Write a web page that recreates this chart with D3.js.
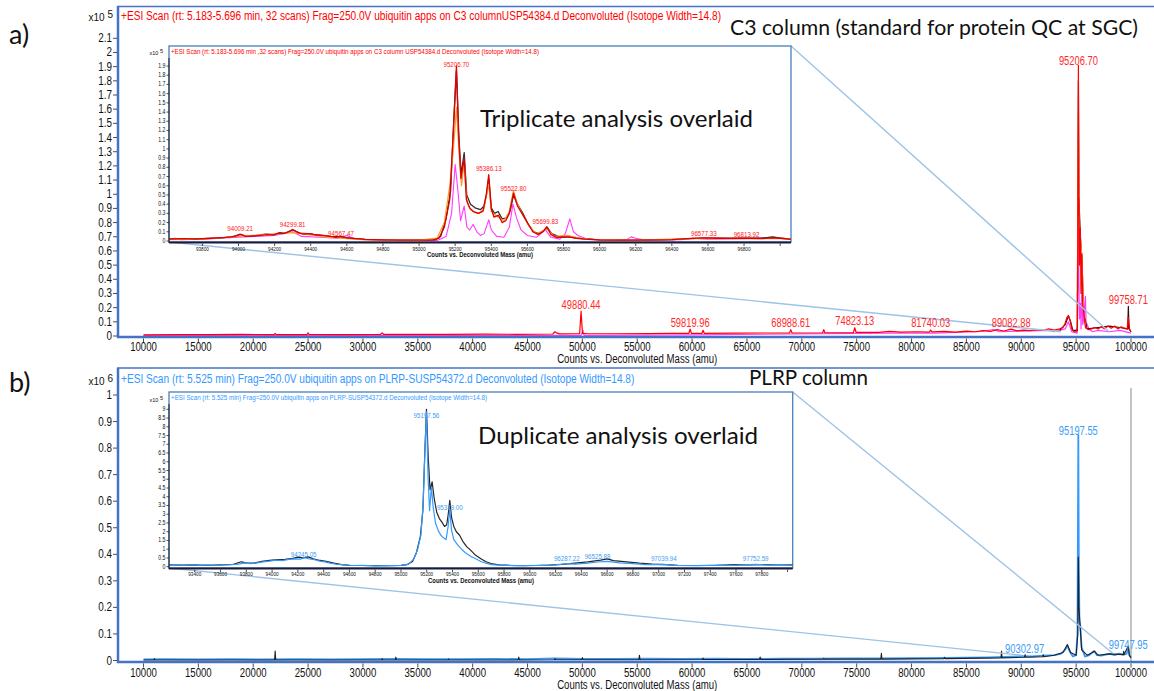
<!DOCTYPE html>
<html><head><meta charset="utf-8">
<script src="https://cdn.jsdelivr.net/npm/d3@7"></script>
<style>body{margin:0;background:#fff}svg{display:block}text{font-family:"Liberation Sans",Arial,sans-serif}</style>
</head><body><svg id="c" width="1154" height="691"></svg>
<script>
// ===================== DATA =====================
const mainXTicks = [10000,15000,20000,25000,30000,35000,40000,45000,50000,55000,60000,65000,70000,75000,80000,85000,90000,95000,100000];
const aYTicks = [0,0.1,0.2,0.3,0.4,0.5,0.6,0.7,0.8,0.9,1,1.1,1.2,1.3,1.4,1.5,1.6,1.7,1.8,1.9,2,2.1];
const bYTicks = [0,0.1,0.2,0.3,0.4,0.5,0.6,0.7,0.8,0.9,1];
const aInsetXTicks = [93800,94000,94200,94400,94600,94800,95000,95200,95400,95600,95800,96000,96200,96400,96600,96800,97000];
const aInsetYTicks = [0,0.1,0.2,0.3,0.4,0.5,0.6,0.7,0.8,0.9,1,1.1,1.2,1.3,1.4,1.5,1.6,1.7,1.8,1.9];
const bInsetXTicks = [93400,93600,93800,94000,94200,94400,94600,94800,95000,95200,95400,95600,95800,96000,96200,96400,96600,96800,97000,97200,97400,97600,97800,98000];
const bInsetYTicks = [0,0.5,1,1.5,2,2.5,3,3.5,4,4.5,5,5.5,6,6.5,7,7.5,8,8.5,9];

// panel a main spectrum (x10^5 counts)
const aMainMagenta = [[10000,0.005],[49900,0.005],[50050,0.04],[50150,0.005],[60000,0.008],[78000,0.02],[82000,0.02],[86000,0.03],[87500,0.045],[88000,0.03],[90000,0.035],[92500,0.04],[93000,0.03],[94000,0.05],[94300,0.1],[94600,0.03],[95100,0.02],[95207,0.84],[95250,0.37],[95300,0.12],[95386,0.23],[95450,0.05],[95523,0.41],[95600,0.08],[95700,0.12],[95846,0.28],[95900,0.1],[96170,0.05],[96500,0.03],[97000,0.04],[98000,0.03],[99000,0.04],[100000,0.02]];
const aMainBlack = [[93500,0.04],[94000,0.08],[94300,0.14],[94500,0.1],[94700,0.04],[95100,0.04],[95207,1.8],[95262,0.96],[95386,0.7],[95523,0.55],[95700,0.15],[96000,0.05],[97000,0.06],[98000,0.07],[99000,0.06],[99600,0.05],[99700,0.05],[99759,0.21],[99820,0.05],[100000,0.03]];
const aMainOrange = [[95100,0.05],[95207,1.6],[95262,0.9],[95330,0.58],[95386,0.7],[95523,0.55],[95700,0.15],[95900,0.05]];
const aMainRed = [[10000,0.008],[13000,0.01],[16000,0.009],[19000,0.011],[21900,0.01],[22000,0.018],[22100,0.01],[24900,0.01],[25000,0.022],[25100,0.011],[28000,0.01],[31600,0.011],[31750,0.022],[31900,0.011],[35000,0.012],[38000,0.011],[41000,0.013],[44000,0.012],[47300,0.014],[47500,0.03],[47700,0.02],[47900,0.015],[49750,0.016],[49880,0.175],[50010,0.018],[50500,0.016],[53000,0.016],[56000,0.017],[58000,0.018],[59700,0.018],[59820,0.048],[59940,0.018],[60900,0.019],[61000,0.04],[61100,0.019],[64000,0.02],[66500,0.021],[68870,0.021],[68989,0.045],[69110,0.021],[71900,0.023],[72000,0.045],[72100,0.023],[74700,0.024],[74823,0.058],[74950,0.025],[77000,0.026],[78000,0.032],[79000,0.027],[80500,0.03],[81620,0.028],[81740,0.042],[81860,0.029],[83000,0.032],[84000,0.028],[85000,0.035],[85800,0.03],[86500,0.038],[87200,0.032],[87800,0.045],[88400,0.035],[89083,0.048],[89600,0.036],[90200,0.042],[90800,0.038],[91400,0.045],[92000,0.04],[92500,0.05],[93000,0.042],[93500,0.05],[93800,0.06],[94000,0.09],[94150,0.13],[94300,0.145],[94450,0.11],[94600,0.05],[94800,0.03],[95000,0.03],[95120,0.06],[95207,1.91],[95240,0.85],[95262,0.97],[95300,0.5],[95386,0.76],[95440,0.3],[95523,0.58],[95600,0.22],[95700,0.16],[95850,0.06],[96100,0.045],[96400,0.05],[96700,0.06],[97000,0.05],[97300,0.065],[97600,0.05],[97900,0.07],[98200,0.055],[98500,0.07],[98800,0.05],[99100,0.065],[99400,0.055],[99650,0.05],[99759,0.13],[99860,0.05],[100000,0.03]];
const aPeaks = [[49880.44,0.175],[59819.96,0.05],[68988.61,0.05],[74823.13,0.066],[81740.03,0.05],[89082.88,0.05],[95206.70,1.9],[99758.71,0.21]];

// panel a inset (x10^5 counts)
const aInsetMagenta = [[93615,0.02],[93650,0.03],[93680,0.015],[93800,0.02],[94000,0.04],[94100,0.05],[94200,0.06],[94300,0.1],[94350,0.05],[94450,0.04],[94550,0.03],[94600,0.06],[94650,0.02],[94800,0.01],[95100,0.005],[95150,0.05],[95180,0.3],[95200,0.83],[95215,0.55],[95230,0.22],[95250,0.38],[95265,0.15],[95280,0.12],[95300,0.18],[95320,0.1],[95340,0.06],[95360,0.08],[95386,0.23],[95400,0.12],[95430,0.05],[95470,0.04],[95500,0.15],[95520,0.4],[95540,0.25],[95565,0.12],[95600,0.06],[95650,0.04],[95700,0.12],[95730,0.04],[95780,0.02],[95810,0.08],[95835,0.24],[95855,0.1],[95880,0.06],[95920,0.03],[96000,0.01],[96150,0.015],[96175,0.045],[96200,0.03],[96250,0.01],[96450,0.015],[96520,0.03],[96600,0.02],[96800,0.025],[96960,0.04],[97060,0.02]];
const aInsetBlack = [[93615,0.02],[93700,0.02],[93800,0.025],[93900,0.035],[93960,0.045],[94009,0.07],[94050,0.05],[94100,0.06],[94150,0.075],[94200,0.07],[94230,0.09],[94260,0.085],[94300,0.12],[94340,0.085],[94380,0.08],[94420,0.07],[94460,0.06],[94500,0.05],[94567,0.045],[94620,0.03],[94700,0.018],[94800,0.012],[95000,0.01],[95090,0.015],[95120,0.05],[95150,0.25],[95175,0.55],[95192,1.3],[95207,1.85],[95220,1.15],[95233,0.72],[95250,0.96],[95264,0.5],[95285,0.4],[95310,0.36],[95340,0.34],[95360,0.38],[95373,0.5],[95386,0.68],[95400,0.36],[95418,0.3],[95438,0.32],[95460,0.24],[95485,0.25],[95505,0.33],[95523,0.5],[95545,0.4],[95575,0.3],[95605,0.18],[95635,0.1],[95665,0.08],[95690,0.11],[95708,0.15],[95735,0.08],[95770,0.05],[95810,0.045],[95850,0.04],[95900,0.025],[96000,0.012],[96200,0.01],[96400,0.014],[96500,0.025],[96600,0.035],[96700,0.03],[96813,0.032],[96900,0.03],[96960,0.045],[97000,0.03],[97060,0.02]];
const aInsetOrange = [[93615,0.015],[93800,0.02],[94000,0.05],[94300,0.09],[94500,0.04],[94700,0.012],[95000,0.008],[95100,0.03],[95140,0.2],[95170,0.6],[95190,1.0],[95207,1.45],[95222,0.95],[95235,0.6],[95250,0.85],[95265,0.42],[95285,0.34],[95320,0.3],[95355,0.32],[95386,0.62],[95400,0.32],[95430,0.27],[95470,0.22],[95500,0.32],[95523,0.55],[95545,0.4],[95575,0.28],[95610,0.16],[95650,0.08],[95708,0.13],[95750,0.05],[95820,0.06],[95870,0.04],[95950,0.015],[96200,0.01],[96600,0.03],[97060,0.025]];
const aInsetRed = [[93615,0.02],[93700,0.025],[93760,0.02],[93850,0.03],[93930,0.04],[93980,0.05],[94009,0.075],[94040,0.05],[94080,0.055],[94120,0.06],[94160,0.07],[94190,0.065],[94220,0.085],[94250,0.08],[94275,0.1],[94300,0.125],[94330,0.09],[94360,0.075],[94400,0.08],[94430,0.065],[94470,0.06],[94510,0.05],[94540,0.04],[94567,0.05],[94600,0.035],[94650,0.025],[94700,0.018],[94800,0.012],[94900,0.01],[95000,0.01],[95080,0.012],[95110,0.03],[95140,0.15],[95170,0.45],[95190,1.2],[95207,1.9],[95220,1.1],[95232,0.68],[95250,0.9],[95262,0.45],[95280,0.36],[95300,0.32],[95330,0.3],[95355,0.33],[95372,0.5],[95386,0.72],[95400,0.35],[95415,0.26],[95440,0.28],[95460,0.2],[95480,0.22],[95500,0.3],[95523,0.52],[95545,0.38],[95570,0.3],[95600,0.2],[95630,0.1],[95660,0.07],[95685,0.1],[95708,0.155],[95730,0.07],[95760,0.04],[95800,0.04],[95830,0.045],[95870,0.03],[95920,0.02],[96000,0.012],[96100,0.01],[96200,0.01],[96300,0.012],[96400,0.015],[96480,0.025],[96577,0.035],[96650,0.03],[96720,0.028],[96813,0.03],[96900,0.025],[96950,0.035],[97000,0.03],[97060,0.02]];
const aInsetPeaks = [[94009.21,0.089],[94299.81,0.132],[94567.47,0.042],[95206.70,1.877],[95386.13,0.748],[95522.80,0.531],[95699.83,0.165],[96577.33,0.042],[96813.92,0.031]];

// panel b main spectrum (x10^6 counts)
const bMainBlue = [[10000,0.004],[12000,0.005],[15000,0.004],[18000,0.005],[21000,0.004],[24000,0.005],[27000,0.004],[30000,0.005],[33000,0.006],[36000,0.005],[39000,0.005],[42000,0.006],[45000,0.005],[47500,0.008],[50000,0.006],[53000,0.006],[56000,0.007],[59000,0.006],[62000,0.007],[65000,0.006],[68000,0.007],[71000,0.007],[74000,0.008],[77000,0.008],[80000,0.009],[83000,0.01],[85000,0.011],[87000,0.012],[88500,0.014],[90000,0.016],[91000,0.015],[92000,0.018],[93000,0.02],[93600,0.025],[94000,0.04],[94200,0.055],[94400,0.035],[94700,0.015],[95000,0.02],[95120,0.1],[95198,0.85],[95240,0.4],[95300,0.15],[95380,0.13],[95500,0.05],[95800,0.015],[96200,0.02],[96450,0.03],[96650,0.036],[96900,0.02],[97300,0.018],[97700,0.022],[98100,0.025],[98500,0.02],[98900,0.026],[99300,0.022],[99600,0.025],[99748,0.05],[99850,0.02],[100000,0.012]];
const bMainBlack = [[10000,0.002],[10950,0.002],[11000,0.007],[11050,0.002],[21950,0.002],[22000,0.036],[22050,0.002],[31700,0.002],[31750,0.007],[31800,0.002],[32950,0.002],[33000,0.013],[33050,0.002],[37750,0.002],[37800,0.006],[37850,0.002],[44150,0.002],[44200,0.013],[44250,0.002],[47450,0.003],[47500,0.007],[47550,0.003],[49950,0.003],[50000,0.011],[50050,0.003],[55150,0.003],[55200,0.02],[55250,0.003],[60950,0.004],[61000,0.009],[61050,0.004],[66150,0.004],[66200,0.013],[66250,0.004],[71950,0.005],[72000,0.008],[72050,0.005],[77200,0.005],[77250,0.027],[77300,0.005],[82950,0.007],[83000,0.012],[83050,0.007],[88150,0.01],[88200,0.036],[88250,0.01],[90300,0.012],[90350,0.022],[90400,0.012],[91950,0.014],[92000,0.022],[92050,0.014],[93000,0.02],[93800,0.03],[94200,0.06],[94500,0.03],[95000,0.02],[95150,0.1],[95198,0.39],[95250,0.2],[95380,0.12],[95500,0.04],[96000,0.02],[96500,0.03],[96650,0.035],[97000,0.02],[98000,0.025],[99300,0.022],[99330,0.035],[99360,0.022],[99748,0.055],[99850,0.02],[100000,0.01]];
const bPeaks = [[90302.97,0.021],[95197.55,0.84],[99747.95,0.036]];
const bCursorMass = [100000];

// panel b inset (x10^5 counts)
const bInsetBlack = [[93200,0.1],[93300,0.09],[93400,0.1],[93500,0.08],[93600,0.1],[93700,0.13],[93760,0.28],[93800,0.22],[93860,0.2],[93920,0.3],[93980,0.36],[94040,0.4],[94100,0.42],[94160,0.48],[94200,0.55],[94240,0.5],[94280,0.56],[94320,0.45],[94360,0.38],[94420,0.3],[94480,0.2],[94540,0.12],[94600,0.08],[94700,0.07],[94800,0.06],[94900,0.06],[95000,0.08],[95050,0.12],[95090,0.3],[95120,0.8],[95150,1.7],[95170,3.2],[95185,6.5],[95198,9.0],[95212,6.2],[95226,4.4],[95242,4.85],[95258,3.9],[95278,3.1],[95298,2.75],[95318,2.55],[95338,2.3],[95355,2.4],[95367,3.0],[95379,3.8],[95393,2.8],[95410,2.3],[95430,2.0],[95455,1.8],[95480,1.45],[95510,1.15],[95540,0.95],[95580,0.65],[95620,0.45],[95660,0.28],[95700,0.18],[95760,0.1],[95850,0.07],[95950,0.06],[96050,0.07],[96150,0.09],[96250,0.13],[96350,0.2],[96450,0.28],[96550,0.38],[96600,0.45],[96650,0.35],[96750,0.28],[96850,0.2],[96950,0.15],[97050,0.12],[97150,0.08],[97300,0.07],[97450,0.08],[97600,0.12],[97700,0.1],[97800,0.12],[97900,0.1],[98040,0.1]];
const bInsetBlue = [[93200,0.08],[93260,0.12],[93320,0.07],[93380,0.11],[93440,0.08],[93500,0.1],[93560,0.07],[93620,0.1],[93680,0.12],[93740,0.15],[93790,0.22],[93830,0.17],[93880,0.22],[93930,0.28],[93980,0.32],[94030,0.38],[94080,0.35],[94130,0.42],[94180,0.45],[94220,0.43],[94250,0.52],[94290,0.44],[94330,0.4],[94370,0.32],[94410,0.28],[94450,0.2],[94500,0.14],[94560,0.1],[94620,0.07],[94700,0.08],[94800,0.05],[94900,0.06],[95000,0.08],[95060,0.15],[95100,0.45],[95130,1.0],[95155,1.8],[95172,3.6],[95186,6.6],[95198,8.85],[95210,5.2],[95222,3.2],[95236,4.55],[95250,3.4],[95268,2.5],[95290,2.05],[95310,1.8],[95330,1.65],[95350,1.55],[95366,2.3],[95379,3.3],[95392,2.1],[95410,1.55],[95440,1.25],[95470,1.0],[95500,0.8],[95540,0.6],[95580,0.45],[95620,0.3],[95660,0.2],[95700,0.12],[95800,0.08],[95900,0.06],[96000,0.07],[96100,0.08],[96200,0.1],[96287,0.18],[96350,0.15],[96450,0.2],[96525,0.27],[96600,0.3],[96700,0.22],[96800,0.18],[96900,0.12],[97039,0.13],[97120,0.08],[97300,0.06],[97450,0.09],[97550,0.07],[97650,0.1],[97752,0.13],[97850,0.09],[97950,0.12],[98040,0.08]];
const bInsetPeaks = [[94245.05,0.47],[95197.56,8.42],[95379.00,3.16],[96287.22,0.24],[96525.88,0.35],[97039.94,0.24],[97752.59,0.24]];

// zoom windows (mass where connector lines meet the main axis)
const aZoomWindow = [93600, 98000];
const bZoomWindow = [90000, 98340];

// ===================== DRAW =====================
const svg = d3.select("#c");
svg.append("rect").attr("width",1154).attr("height",691).attr("fill","#fff");
const FRAME = "#4472c4", CONN = "#9dc3e6", RED = "#ff0000", BLUE = "#3399ff";
const fmt1 = d3.format(".1~f");

function condense(sel, f){ sel.each(function(){ const w=this.getComputedTextLength(); if(w>0){ this.setAttribute("textLength",(w*f).toFixed(1)); this.setAttribute("lengthAdjust","spacingAndGlyphs"); } }); }
function series(g, data, x, y, color, w){
  g.append("path").datum(data).attr("fill","none").attr("stroke",color).attr("stroke-width",w)
   .attr("stroke-linejoin","round").attr("d", d3.line().x(d=>x(d[0])).y(d=>y(d[1])));
}
function xAxisTicks(g, scale, ticks, labels, y0, len, fs, base, f, fmt){
  g.selectAll(null).data(ticks).join("line").attr("x1",d=>scale(d)).attr("x2",d=>scale(d))
   .attr("y1",y0).attr("y2",y0+len).attr("stroke","#222").attr("stroke-width",0.8);
  const t = g.selectAll(null).data(labels).join("text").attr("x",d=>scale(d)).attr("y",base)
   .attr("text-anchor","middle").attr("font-size",fs).attr("fill","#111").text(fmt);
  condense(t,f);
}
function yAxisTicks(g, scale, ticks, x0, len, fs, dy, f){
  g.selectAll(null).data(ticks).join("line").attr("x1",x0-len).attr("x2",x0)
   .attr("y1",d=>scale(d)).attr("y2",d=>scale(d)).attr("stroke","#222").attr("stroke-width",0.8);
  const t = g.selectAll(null).data(ticks).join("text").attr("x",x0-len-1).attr("y",d=>scale(d)+dy)
   .attr("text-anchor","end").attr("font-size",fs).attr("fill","#111").text(d=>fmt1(d));
  condense(t,f);
}
function peakLabels(g, peaks, x, y, color, fs, off, f){
  const t = g.selectAll(null).data(peaks).join("text").attr("x",d=>x(d[0])).attr("y",d=>y(d[1])-off)
   .attr("text-anchor","middle").attr("font-size",fs).attr("fill",color).text(d=>d[0].toFixed(2));
  condense(t,f);
}
function mult(g, x, y, exp, fs){
  const t = g.append("text").attr("x",x).attr("y",y).attr("font-size",fs).attr("fill","#111").attr("text-anchor","end");
  t.append("tspan").text("x10 ");
  t.append("tspan").attr("dy",-fs*0.3).text(exp);
}

// ---------- Panel a main ----------
const xA = d3.scaleLinear().domain([10000,100000]).range([143.5,1131]);
const yA = d3.scaleLinear().domain([0,2.1]).range([336,38.3]);
const gA = svg.append("g");
svg.append("clipPath").attr("id","clipA").append("rect").attr("x",118).attr("y",6).attr("width",1036).attr("height",330);
const gAS = gA.append("g").attr("clip-path","url(#clipA)");
series(gAS, aMainMagenta, xA, yA, "#ff3cff", 1.2);
series(gAS, aMainBlack, xA, yA, "#3a0a0a", 1.2);
series(gAS, aMainOrange, xA, yA, "#ff9a2e", 1.2);
series(gAS, aMainRed, xA, yA, RED, 1.2);
gA.append("line").attr("x1",791).attr("y1",46).attr("x2",xA(aZoomWindow[1])).attr("y2",yA(0.03)).attr("stroke",CONN).attr("stroke-width",1.4);
gA.append("line").attr("x1",169).attr("y1",242).attr("x2",xA(aZoomWindow[0])).attr("y2",yA(0.03)).attr("stroke",CONN).attr("stroke-width",1.4);
gA.append("line").attr("x1",117).attr("x2",1154).attr("y1",6.5).attr("y2",6.5).attr("stroke",FRAME).attr("stroke-width",1.5);
gA.append("line").attr("x1",118).attr("x2",118).attr("y1",6).attr("y2",338).attr("stroke",FRAME).attr("stroke-width",2.5);
gA.append("line").attr("x1",117).attr("x2",1154).attr("y1",337).attr("y2",337).attr("stroke",FRAME).attr("stroke-width",2.5);
xAxisTicks(gA, xA, mainXTicks, mainXTicks, 338.5, 4, 12, 350.5, 0.8, d=>String(d));
yAxisTicks(gA, yA, aYTicks, 117, 4, 12, 4, 0.82);
peakLabels(gA, aPeaks, xA, yA, "#ff2a2a", 12, 2, 0.78);
const tA = gA.append("text").attr("x",(143.5+1131)/2).attr("y",362.5).attr("text-anchor","middle").attr("font-size",12).attr("fill","#111").text("Counts vs. Deconvoluted Mass (amu)");
condense(tA,0.8);
mult(gA, 113, 21, "5", 10);

// ---------- Panel a inset ----------
const xIA = d3.scaleLinear().domain([93615,97060]).range([169,791]);
const yIA = d3.scaleLinear().domain([0,1.9]).range([241,66]);
const gIA = svg.append("g");
gIA.append("rect").attr("x",169).attr("y",46).attr("width",622).attr("height",196).attr("fill","#fff").attr("stroke","#4a7ebb").attr("stroke-width",1.3);
svg.append("clipPath").attr("id","clipIA").append("rect").attr("x",169).attr("y",46).attr("width",622).attr("height",196);
const gIAS = gIA.append("g").attr("clip-path","url(#clipIA)");
series(gIAS, aInsetMagenta, xIA, yIA, "#ff3cff", 1.1);
series(gIAS, aInsetBlack, xIA, yIA, "#303030", 1.3);
series(gIAS, aInsetOrange, xIA, yIA, "#ff9a2e", 1.3);
series(gIAS, aInsetRed, xIA, yIA, "#e00000", 1.3);
gIA.append("line").attr("x1",169).attr("x2",169).attr("y1",58).attr("y2",243).attr("stroke","#222").attr("stroke-width",1);
gIA.append("line").attr("x1",169).attr("x2",791).attr("y1",242.5).attr("y2",242.5).attr("stroke","#1a1a3a").attr("stroke-width",1.8);
xAxisTicks(gIA, xIA, aInsetXTicks, aInsetXTicks.slice(0,-1), 243.5, 2.5, 6, 250.5, 0.78, d=>String(d));
yAxisTicks(gIA, yIA, aInsetYTicks, 169, 2.5, 6.5, 2, 0.8);
peakLabels(gIA, aInsetPeaks, xIA, yIA, "#ff2020", 6.5, 1.5, 0.95);
gIA.append("text").attr("x",171).attr("y",53.5).attr("font-size",6.5).attr("fill",RED).attr("textLength",368).attr("lengthAdjust","spacingAndGlyphs")
  .text("+ESI Scan (rt: 5.183-5.696 min ,32 scans) Frag=250.0V ubiquitin apps on C3 column USP54384.d  Deconvoluted (Isotope Width=14.8)");
gIA.append("text").attr("x",480).attr("y",257).attr("text-anchor","middle").attr("font-size",6.5).attr("font-weight","bold").attr("fill","#111").attr("textLength",106).attr("lengthAdjust","spacingAndGlyphs").text("Counts vs. Deconvoluted Mass (amu)");
mult(gIA, 163, 55, "5", 5.5);

// ---------- Panel b main ----------
const xB = d3.scaleLinear().domain([10000,100000]).range([143.5,1131]);
const yB = d3.scaleLinear().domain([0,1]).range([660.5,395]);
const gB = svg.append("g");
svg.append("clipPath").attr("id","clipB").append("rect").attr("x",118).attr("y",368).attr("width",1036).attr("height",293);
const gBS = gB.append("g").attr("clip-path","url(#clipB)");
gBS.selectAll(null).data(bCursorMass).join("line").attr("x1",d=>xB(d)).attr("x2",d=>xB(d)).attr("y1",388).attr("y2",661).attr("stroke","#b4b4b4").attr("stroke-width",1.6);
series(gBS, bMainBlue, xB, yB, BLUE, 1.8);
series(gBS, bMainBlack, xB, yB, "#222", 1.1);
gB.append("line").attr("x1",792.7).attr("y1",392).attr("x2",xB(bZoomWindow[1])).attr("y2",yB(0.027)).attr("stroke",CONN).attr("stroke-width",1.4);
gB.append("line").attr("x1",169).attr("y1",568).attr("x2",xB(bZoomWindow[0])).attr("y2",yB(0.02)).attr("stroke",CONN).attr("stroke-width",1.4);
gB.append("line").attr("x1",117).attr("x2",1154).attr("y1",368).attr("y2",368).attr("stroke",FRAME).attr("stroke-width",1.5);
gB.append("line").attr("x1",118).attr("x2",118).attr("y1",368).attr("y2",663).attr("stroke",FRAME).attr("stroke-width",2.5);
gB.append("line").attr("x1",117).attr("x2",1154).attr("y1",662).attr("y2",662).attr("stroke",FRAME).attr("stroke-width",2.5);
xAxisTicks(gB, xB, mainXTicks, mainXTicks, 663.5, 4, 12, 676.5, 0.8, d=>String(d));
yAxisTicks(gB, yB, bYTicks, 117, 4, 12, 4, 0.82);
peakLabels(gB, bPeaks, xB, yB, "#3d9df5", 12, 2, 0.78);
const tB = gB.append("text").attr("x",(143.5+1131)/2).attr("y",689).attr("text-anchor","middle").attr("font-size",12).attr("fill","#111").text("Counts vs. Deconvoluted Mass (amu)");
condense(tB,0.8);
mult(gB, 113, 385, "6", 10);

// ---------- Panel b inset ----------
const xIB = d3.scaleLinear().domain([93200,98040]).range([169,792.7]);
const yIB = d3.scaleLinear().domain([0,9]).range([566.7,409.3]);
const gIB = svg.append("g");
gIB.append("rect").attr("x",169).attr("y",392).attr("width",623.7).attr("height",176).attr("fill","#fff").attr("stroke","#4a7ebb").attr("stroke-width",1.3);
svg.append("clipPath").attr("id","clipIB").append("rect").attr("x",169).attr("y",392).attr("width",623.7).attr("height",176);
const gIBS = gIB.append("g").attr("clip-path","url(#clipIB)");
series(gIBS, bInsetBlack, xIB, yIB, "#262626", 1.2);
series(gIBS, bInsetBlue, xIB, yIB, BLUE, 1.2);
gIB.append("line").attr("x1",169).attr("x2",169).attr("y1",404).attr("y2",569).attr("stroke","#222").attr("stroke-width",1);
gIB.append("line").attr("x1",169).attr("x2",792.7).attr("y1",568.5).attr("y2",568.5).attr("stroke","#1a1a3a").attr("stroke-width",1.8);
xAxisTicks(gIB, xIB, bInsetXTicks, bInsetXTicks.slice(0,-1), 569.5, 2.5, 6, 576, 0.78, d=>String(d));
yAxisTicks(gIB, yIB, bInsetYTicks, 169, 2.5, 6.5, 2, 0.8);
peakLabels(gIB, bInsetPeaks, xIB, yIB, "#3d9df5", 6.5, 1.5, 0.95);
gIB.append("text").attr("x",171).attr("y",399.8).attr("font-size",6.5).attr("fill",BLUE).attr("textLength",316).attr("lengthAdjust","spacingAndGlyphs")
  .text("+ESI Scan (rt: 5.525 min) Frag=250.0V ubiquitin apps on PLRP-SUSP54372.d  Deconvoluted (Isotope Width=14.8)");
gIB.append("text").attr("x",481).attr("y",582.5).attr("text-anchor","middle").attr("font-size",6.5).attr("font-weight","bold").attr("fill","#111").attr("textLength",106).attr("lengthAdjust","spacingAndGlyphs").text("Counts vs. Deconvoluted Mass (amu)");
mult(gIB, 163, 402, "5", 5.5);

// ---------- headers & annotations ----------
const hA = svg.append("text").attr("x",121).attr("y",20).attr("font-size",12).attr("fill",RED)
  .text("+ESI Scan (rt: 5.183-5.696 min, 32 scans) Frag=250.0V ubiquitin apps on C3 columnUSP54384.d  Deconvoluted (Isotope Width=14.8)");
const hB = svg.append("text").attr("x",121).attr("y",383).attr("font-size",12).attr("fill",BLUE)
  .text("+ESI Scan (rt: 5.525 min) Frag=250.0V ubiquitin apps on PLRP-SUSP54372.d  Deconvoluted (Isotope Width=14.8)");
const wA = hA.node().getComputedTextLength(), wB = hB.node().getComputedTextLength();
hA.attr("textLength",600).attr("lengthAdjust","spacingAndGlyphs");
hB.attr("textLength",wB*600/wA).attr("lengthAdjust","spacingAndGlyphs");

const big = (x,y,fs,txt,len)=>{ const t=svg.append("text").attr("x",x).attr("y",y).attr("font-size",fs).attr("fill","#111").style("font-family","Lato, 'Open Sans', sans-serif").text(txt); if(len) t.attr("textLength",len).attr("lengthAdjust","spacingAndGlyphs"); return t; };
big(9,44,27,"a)");
big(9,392,27,"b)");
big(730,35,21,"C3 column (standard for protein QC at SGC)",408);
big(749,385,21,"PLRP column",119);
big(480,127,24,"Triplicate analysis overlaid",273);
big(478,444,24,"Duplicate analysis overlaid",280);
</script></body></html>
